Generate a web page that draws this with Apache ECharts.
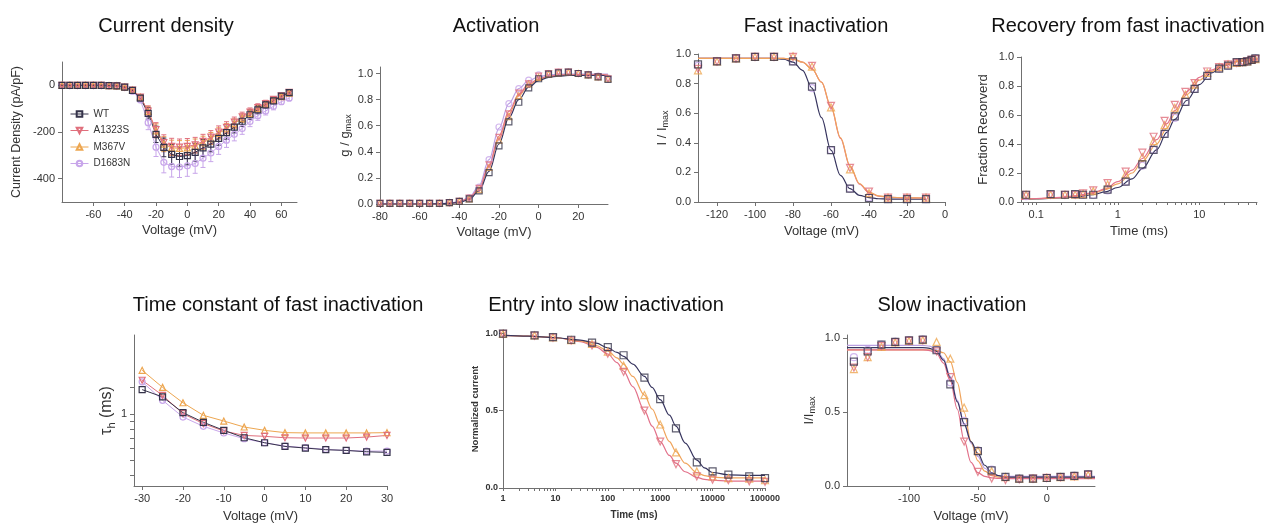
<!DOCTYPE html>
<html>
<head>
<meta charset="utf-8">
<title>Channel gating panels</title>
<script src="https://cdn.jsdelivr.net/npm/echarts@6/dist/echarts.min.js"></script>
<style>
  html, body { margin: 0; background: #fff; }
  #main { width: 1286px; height: 528px; }
</style>
</head>
<body>
<div id="main"></div>
<script>
// ---- data ----
var genotypes = ['WT', 'A1323S', 'M367V', 'D1683N'];

// current density (pA/pF)
var cdV = [-80, -75, -70, -65, -60, -55, -50, -45, -40, -35, -30, -25, -20, -15, -10, -5, 0, 5, 10, 15, 20, 25, 30, 35, 40, 45, 50, 55, 60, 65];
var cdWT = [0, 0, 0, 0, 0, 0, -1, -2, -8, -22, -55, -120, -210, -266, -296, -305, -301, -287, -268, -252, -227, -203, -179, -154, -126, -105, -84, -67, -46, -31];
var cdA1323S = [0, 0, 0, 0, 0, 0, -1, -2, -8, -20, -50, -110, -190, -245, -262, -265, -262, -255, -240, -222, -200, -180, -158, -135, -115, -95, -78, -60, -45, -30];
var cdM367V = [0, 0, 0, 0, 0, 0, -1, -2, -8, -20, -50, -112, -195, -252, -268, -270, -268, -260, -246, -228, -206, -186, -164, -141, -120, -100, -82, -64, -48, -33];
var cdD1683N = [0, 0, 0, 0, 0, 0, -1, -2, -9, -25, -62, -160, -265, -330, -348, -350, -345, -335, -312, -290, -262, -235, -210, -185, -155, -130, -110, -90, -70, -55];
var cdErrWT = [2, 2, 2, 2, 2, 2, 2, 2, 2, 5, 10, 25, 35, 40, 42, 42, 40, 38, 36, 33, 30, 28, 25, 22, 20, 17, 15, 12, 10, 8];
var cdErrA1323S = [2, 2, 2, 2, 2, 2, 2, 2, 3, 5, 10, 22, 30, 33, 35, 35, 34, 32, 30, 28, 26, 24, 22, 20, 18, 16, 14, 12, 10, 8];
var cdErrM367V = [2, 2, 2, 2, 2, 2, 2, 2, 3, 5, 10, 22, 30, 32, 33, 33, 32, 30, 28, 26, 24, 22, 20, 18, 16, 14, 12, 10, 9, 8];
var cdErrD1683N = [2, 2, 2, 2, 2, 2, 2, 2, 3, 6, 12, 30, 40, 45, 45, 45, 45, 42, 40, 37, 34, 31, 28, 25, 22, 20, 17, 15, 12, 10];

// activation g/gmax
var actV = [-80, -75, -70, -65, -60, -55, -50, -45, -40, -35, -30, -25, -20, -15, -10, -5, 0, 5, 10, 15, 20, 25, 30, 35];
var actWT = [0.005, 0.005, 0.005, 0.005, 0.005, 0.005, 0.005, 0.01, 0.02, 0.04, 0.10, 0.24, 0.446, 0.63, 0.78, 0.89, 0.96, 0.995, 1.005, 1.01, 1.0, 0.99, 0.975, 0.955];
var actA1323S = [0.005, 0.005, 0.005, 0.005, 0.005, 0.005, 0.005, 0.01, 0.02, 0.045, 0.12, 0.30, 0.51, 0.69, 0.85, 0.92, 0.98, 1.0, 1.01, 1.01, 1.0, 0.99, 0.975, 0.96];
var actM367V = [0.005, 0.005, 0.005, 0.005, 0.005, 0.005, 0.005, 0.01, 0.02, 0.04, 0.11, 0.28, 0.49, 0.67, 0.83, 0.92, 0.97, 0.995, 1.005, 1.01, 1.0, 0.99, 0.975, 0.96];
var actD1683N = [0.005, 0.005, 0.005, 0.005, 0.005, 0.005, 0.005, 0.01, 0.02, 0.05, 0.13, 0.34, 0.59, 0.77, 0.885, 0.95, 0.99, 1.0, 1.01, 1.01, 1.0, 0.99, 0.98, 0.965];
var actFitWT = [0, 0, 0, 0, 0, 0, 0.002, 0.005, 0.012, 0.035, 0.10, 0.25, 0.46, 0.66, 0.80, 0.895, 0.945, 0.97, 0.98, 0.985, 0.985, 0.985, 0.985, 0.985];
var actFitA1323S = [0, 0, 0, 0, 0, 0, 0.002, 0.006, 0.015, 0.045, 0.12, 0.30, 0.52, 0.71, 0.84, 0.92, 0.96, 0.98, 0.99, 0.99, 0.99, 0.99, 0.99, 0.99];
var actFitM367V = [0, 0, 0, 0, 0, 0, 0.002, 0.006, 0.014, 0.042, 0.115, 0.29, 0.50, 0.69, 0.83, 0.91, 0.955, 0.975, 0.985, 0.99, 0.99, 0.99, 0.99, 0.99];
var actFitD1683N = [0, 0, 0, 0, 0, 0, 0.002, 0.007, 0.018, 0.05, 0.14, 0.34, 0.58, 0.77, 0.885, 0.945, 0.975, 0.99, 0.995, 0.995, 0.995, 0.995, 0.995, 0.995];

// fast inactivation I/Imax
var finV = [-130, -120, -110, -100, -90, -80, -70, -60, -50, -40, -30, -20, -10];
var finWT = [0.93, 0.95, 0.97, 0.98, 0.98, 0.95, 0.78, 0.35, 0.09, 0.027, 0.02, 0.02, 0.02];
var finA1323S = [0.90, 0.95, 0.97, 0.98, 0.98, 0.98, 0.92, 0.65, 0.23, 0.07, 0.03, 0.03, 0.03];
var finM367V = [0.89, 0.95, 0.97, 0.98, 0.98, 0.985, 0.915, 0.64, 0.22, 0.06, 0.03, 0.03, 0.03];
var finD1683N = [0.92, 0.95, 0.97, 0.98, 0.98, 0.95, 0.77, 0.35, 0.09, 0.03, 0.02, 0.02, 0.02];
var finFitV = [-130, -100, -90, -85, -80, -75, -70, -65, -60, -55, -50, -45, -40, -35, -30, -20, -10];
var finFitWT = [0.97, 0.97, 0.97, 0.965, 0.945, 0.89, 0.77, 0.57, 0.35, 0.18, 0.09, 0.045, 0.03, 0.022, 0.02, 0.02, 0.02];
var finFitA1323S = [0.97, 0.97, 0.97, 0.97, 0.965, 0.945, 0.90, 0.81, 0.64, 0.43, 0.24, 0.12, 0.065, 0.04, 0.032, 0.028, 0.027];
var finFitM367V = [0.97, 0.97, 0.97, 0.97, 0.965, 0.945, 0.90, 0.81, 0.645, 0.435, 0.245, 0.125, 0.067, 0.042, 0.033, 0.028, 0.027];

// recovery from fast inactivation
var recT = [0.075, 0.15, 0.225, 0.3, 0.375, 0.5, 0.75, 1.25, 2, 2.75, 3.75, 5, 6.75, 8.75, 12.5, 17.5, 22.5, 28.75, 33.75, 38.75, 43.75, 48.75];
var recWT = [0.05, 0.055, 0.05, 0.055, 0.05, 0.05, 0.085, 0.14, 0.26, 0.36, 0.47, 0.59, 0.69, 0.78, 0.87, 0.92, 0.94, 0.965, 0.965, 0.97, 0.98, 0.99];
var recA1323S = [0.05, 0.05, 0.05, 0.05, 0.06, 0.08, 0.13, 0.21, 0.34, 0.45, 0.56, 0.67, 0.76, 0.82, 0.90, 0.93, 0.95, 0.96, 0.965, 0.97, 0.98, 0.985];
var recM367V = [0.05, 0.05, 0.05, 0.05, 0.055, 0.075, 0.12, 0.19, 0.31, 0.42, 0.53, 0.65, 0.74, 0.81, 0.89, 0.93, 0.95, 0.96, 0.965, 0.97, 0.98, 0.985];
var recD1683N = [0.04, 0.05, 0.05, 0.05, 0.05, 0.05, 0.08, 0.14, 0.25, 0.36, 0.47, 0.58, 0.69, 0.78, 0.87, 0.92, 0.94, 0.96, 0.965, 0.97, 0.98, 0.99];
var recFitT = [0.065, 0.1, 0.2, 0.3, 0.5, 0.7, 1, 1.5, 2, 3, 4, 5, 7, 10, 14, 20, 30, 51];
var recFitWT = [0.02, 0.022, 0.028, 0.035, 0.05, 0.07, 0.10, 0.16, 0.23, 0.36, 0.48, 0.57, 0.70, 0.81, 0.89, 0.94, 0.97, 0.985];
var recFitA1323S = [0.02, 0.024, 0.032, 0.042, 0.065, 0.09, 0.14, 0.22, 0.30, 0.43, 0.54, 0.63, 0.76, 0.86, 0.91, 0.95, 0.975, 0.985];
var recFitM367V = [0.02, 0.023, 0.03, 0.04, 0.06, 0.085, 0.125, 0.20, 0.28, 0.40, 0.51, 0.61, 0.74, 0.84, 0.90, 0.945, 0.97, 0.985];

// time constant of fast inactivation (ms)
var tauV = [-30, -25, -20, -15, -10, -5, 0, 5, 10, 15, 20, 25, 30];
var tauWT = [1.45, 1.30, 1.025, 0.887, 0.786, 0.703, 0.652, 0.617, 0.602, 0.587, 0.581, 0.569, 0.564];
var tauA1323S = [1.67, 1.33, 1.01, 0.869, 0.778, 0.728, 0.718, 0.703, 0.70, 0.70, 0.70, 0.71, 0.728];
var tauM367V = [1.94, 1.50, 1.19, 0.985, 0.904, 0.826, 0.786, 0.759, 0.756, 0.756, 0.756, 0.756, 0.759];
var tauD1683N = [1.63, 1.235, 0.96, 0.835, 0.755, 0.693, 0.652, 0.62, 0.605, 0.59, 0.58, 0.575, 0.575];

// entry into slow inactivation
var entT = [1, 4, 9, 20, 50, 100, 200, 500, 1000, 2000, 5000, 10000, 20000, 50000, 100000];
var entWT = [0.996, 0.985, 0.974, 0.957, 0.938, 0.91, 0.857, 0.713, 0.574, 0.385, 0.165, 0.107, 0.086, 0.075, 0.064];
var entA1323S = [0.995, 0.983, 0.97, 0.952, 0.92, 0.867, 0.75, 0.50, 0.30, 0.154, 0.075, 0.054, 0.05, 0.043, 0.04];
var entM367V = [0.995, 0.985, 0.972, 0.955, 0.93, 0.88, 0.79, 0.60, 0.41, 0.23, 0.107, 0.075, 0.064, 0.06, 0.05];
var entFitT = [1, 3, 10, 30, 60, 100, 150, 200, 300, 500, 700, 1000, 1500, 2000, 3000, 5000, 7000, 10000, 20000, 50000, 100000];
var entFitWT = [0.985, 0.98, 0.97, 0.955, 0.935, 0.905, 0.875, 0.85, 0.80, 0.72, 0.65, 0.57, 0.47, 0.40, 0.29, 0.18, 0.13, 0.10, 0.085, 0.082, 0.082];
var entFitA1323S = [0.985, 0.98, 0.97, 0.945, 0.91, 0.865, 0.81, 0.755, 0.655, 0.50, 0.40, 0.30, 0.21, 0.16, 0.105, 0.068, 0.056, 0.05, 0.045, 0.044, 0.044];
var entFitM367V = [0.985, 0.98, 0.97, 0.95, 0.92, 0.885, 0.84, 0.80, 0.72, 0.60, 0.51, 0.41, 0.30, 0.235, 0.16, 0.10, 0.08, 0.07, 0.065, 0.065, 0.065];

// slow inactivation I/Imax
var sinV = [-140, -130, -120, -110, -100, -90, -80, -70, -60, -50, -40, -30, -20, -10, 0, 10, 20, 30];
var sinWT = [0.84, 0.91, 0.955, 0.973, 0.984, 0.989, 0.917, 0.687, 0.432, 0.236, 0.106, 0.061, 0.05, 0.05, 0.054, 0.061, 0.068, 0.079];
var sinA1323S = [0.80, 0.87, 0.945, 0.97, 0.98, 0.985, 0.91, 0.735, 0.30, 0.095, 0.05, 0.04, 0.045, 0.05, 0.055, 0.06, 0.065, 0.075];
var sinM367V = [0.79, 0.87, 0.94, 0.97, 0.98, 0.985, 0.973, 0.86, 0.53, 0.24, 0.10, 0.06, 0.05, 0.05, 0.055, 0.06, 0.065, 0.075];
var sinD1683N = [0.87, 0.92, 0.955, 0.975, 0.985, 0.99, 0.92, 0.70, 0.44, 0.24, 0.11, 0.06, 0.05, 0.05, 0.055, 0.06, 0.07, 0.08];
var sinFitV = [-145, -90, -85, -80, -75, -70, -65, -60, -55, -50, -45, -40, -35, -30, -20, 35];
var sinFitWT = [0.935, 0.935, 0.93, 0.91, 0.85, 0.73, 0.57, 0.42, 0.30, 0.22, 0.14, 0.09, 0.07, 0.06, 0.06, 0.06];
var sinFitA1323S = [0.92, 0.92, 0.915, 0.895, 0.83, 0.71, 0.52, 0.31, 0.16, 0.09, 0.065, 0.055, 0.052, 0.05, 0.05, 0.05];
var sinFitM367V = [0.92, 0.92, 0.92, 0.915, 0.90, 0.84, 0.70, 0.50, 0.30, 0.17, 0.10, 0.07, 0.06, 0.055, 0.055, 0.055];
var sinFitD1683N = [0.95, 0.95, 0.945, 0.92, 0.86, 0.74, 0.58, 0.42, 0.29, 0.20, 0.12, 0.085, 0.07, 0.065, 0.065, 0.065];

// ---- styling ----
var FONT = '"Liberation Sans", Arial, sans-serif';
var COL = { WT: '#35334a', A1323S: '#e06f7c', M367V: '#eda650', D1683N: '#c8a6ea' };
var FIT = { WT: '#37355f', A1323S: '#e2718a', M367V: '#f0a45c', D1683N: '#baa0e2' };
var SYM = { WT: 'rect', A1323S: 'triangle', M367V: 'triangle', D1683N: 'circle' };

function pts(xs, ys) {
  return xs.map(function (x, i) { return [x, ys[i]]; });
}
function fmt1(v) { return Number(v).toFixed(1); }
function plain(v) { return String(v); }

// minor + major ticks for the log axes
function logTicks(from, to) {
  var out = [];
  for (var d = from; d < to; d *= 10) {
    for (var k = 1; k < 10; k++) out.push(+(d * k).toPrecision(3));
  }
  out.push(to);
  return out;
}

function makeAxis(o) {
  return {
    type: o.type || 'value',
    gridIndex: o.grid,
    min: o.min,
    max: o.max,
    name: o.name,
    nameLocation: 'middle',
    nameGap: o.gap,
    nameTextStyle: Object.assign({ color: '#333', fontSize: 13, fontFamily: FONT }, o.nameStyle || {}),
    axisLine: { show: true, onZero: false, lineStyle: { color: '#707070', width: 1 } },
    axisTick: { show: true, length: o.tickLen || 4, customValues: o.ticks || o.labels, lineStyle: { color: '#707070' } },
    axisLabel: {
      customValues: o.labels,
      formatter: o.fmt || plain,
      color: '#333',
      fontSize: o.fs || 11,
      fontWeight: o.fw || 'normal',
      fontFamily: FONT,
      margin: o.margin || 7
    },
    splitLine: { show: false }
  };
}

function markers(type, g, name, xs, ys, size) {
  return {
    type: type, name: name, xAxisIndex: g, yAxisIndex: g,
    data: pts(xs, ys),
    symbol: SYM[name],
    symbolRotate: name === 'A1323S' ? 180 : 0,
    symbolSize: size,
    showSymbol: true,
    itemStyle: { color: 'rgba(255,255,255,0)', borderColor: COL[name], borderWidth: 1.2 },
    lineStyle: { color: COL[name], width: 1 },
    silent: true, z: 3
  };
}

function fitLine(g, name, xs, ys) {
  return {
    type: 'line', name: name, xAxisIndex: g, yAxisIndex: g,
    data: pts(xs, ys),
    smooth: 0.35, smoothMonotone: 'x',
    symbol: 'none', showSymbol: false,
    lineStyle: { color: FIT[name], width: 1.2 },
    silent: true, z: 2
  };
}

// vertical SEM bars with caps
function errorBars(g, name, xs, ys, es) {
  return {
    type: 'custom', xAxisIndex: g, yAxisIndex: g, silent: true, z: 1,
    data: xs.map(function (x, i) { return [x, ys[i], es[i]]; }),
    encode: { x: 0, y: 1 },
    renderItem: function (params, api) {
      var x = api.value(0), y = api.value(1), e = api.value(2);
      var hi = api.coord([x, y + e]);
      var lo = api.coord([x, y - e]);
      var c = COL[name], w = 2.5;
      var st = { stroke: c, lineWidth: 1 };
      return {
        type: 'group',
        children: [
          { type: 'line', shape: { x1: hi[0], y1: hi[1], x2: lo[0], y2: lo[1] }, style: st },
          { type: 'line', shape: { x1: hi[0] - w, y1: hi[1], x2: hi[0] + w, y2: hi[1] }, style: st },
          { type: 'line', shape: { x1: lo[0] - w, y1: lo[1], x2: lo[0] + w, y2: lo[1] }, style: st }
        ]
      };
    }
  };
}

var grids = [
  { left: 62, top: 62, width: 235, height: 140 },
  { left: 380, top: 67, width: 228, height: 137 },
  { left: 698, top: 54, width: 247, height: 148 },
  { left: 1021, top: 57, width: 236, height: 145 },
  { left: 134, top: 335, width: 253, height: 151 },
  { left: 503, top: 330, width: 262, height: 158 },
  { left: 847, top: 335, width: 248, height: 151 }
];

var sub = { sub: { fontSize: 9, padding: [7, 0, 0, 0] } };
var subTau = { sub: { fontSize: 11, padding: [9, 0, 0, 0] } };

var xAxes = [
  makeAxis({ grid: 0, min: -80, max: 70, labels: [-60, -40, -20, 0, 20, 40, 60], name: 'Voltage (mV)', gap: 22 }),
  makeAxis({ grid: 1, min: -80, max: 35, labels: [-80, -60, -40, -20, 0, 20], name: 'Voltage (mV)', gap: 22 }),
  makeAxis({ grid: 2, min: -130, max: 0, labels: [-120, -100, -80, -60, -40, -20, 0], name: 'Voltage (mV)', gap: 23 }),
  makeAxis({ grid: 3, type: 'log', min: 0.065, max: 51, labels: [0.1, 1, 10], ticks: logTicks(0.1, 50).concat([0.07, 0.08, 0.09]), tickLen: 3, name: 'Time (ms)', gap: 23 }),
  makeAxis({ grid: 4, min: -32, max: 30, labels: [-30, -20, -10, 0, 10, 20, 30], name: 'Voltage (mV)', gap: 24 }),
  makeAxis({ grid: 5, type: 'log', min: 1, max: 100000, labels: [1, 10, 100, 1000, 10000, 100000], ticks: logTicks(1, 100000), tickLen: 3, name: 'Time (ms)', gap: 22, fs: 9, fw: 'bold', margin: 6, nameStyle: { fontSize: 10, fontWeight: 'bold' } }),
  makeAxis({ grid: 6, min: -145, max: 35, labels: [-100, -50, 0], name: 'Voltage (mV)', gap: 24 })
];

var yAxes = [
  makeAxis({ grid: 0, min: -500, max: 100, labels: [-400, -200, 0], name: 'Current Density (pA/pF)', gap: 39, nameStyle: { fontSize: 12.5 } }),
  makeAxis({ grid: 1, min: 0, max: 1.05, labels: [0, 0.2, 0.4, 0.6, 0.8, 1], fmt: fmt1, name: 'g / g{sub|max}', gap: 27, nameStyle: { rich: sub } }),
  makeAxis({ grid: 2, min: 0, max: 1, labels: [0, 0.2, 0.4, 0.6, 0.8, 1], fmt: fmt1, name: 'I / I{sub|max}', gap: 28, nameStyle: { rich: sub } }),
  makeAxis({ grid: 3, min: 0, max: 1, labels: [0, 0.2, 0.4, 0.6, 0.8, 1], fmt: fmt1, name: 'Fraction Recorverd', gap: 31 }),
  makeAxis({ grid: 4, type: 'log', min: 0.34, max: 3.3, labels: [1], ticks: [0.4, 0.5, 0.6, 0.7, 0.8, 0.9, 1, 1.5], name: 'τ{sub|h} (ms)', gap: 12, nameStyle: { fontSize: 16, rich: subTau } }),
  makeAxis({ grid: 5, min: 0, max: 1.02, labels: [0, 0.5, 1], fmt: fmt1, name: 'Normalized current', gap: 23, fs: 9, fw: 'bold', margin: 5, nameStyle: { fontSize: 9.5, fontWeight: 'bold' } }),
  makeAxis({ grid: 6, min: 0, max: 1.02, labels: [0, 0.5, 1], fmt: fmt1, name: 'I/I{sub|max}', gap: 30, nameStyle: { rich: sub } })
];

var series = [];
// panel 1: current density, connected points with error bars
series.push(errorBars(0, 'D1683N', cdV, cdD1683N, cdErrD1683N));
series.push(errorBars(0, 'M367V', cdV, cdM367V, cdErrM367V));
series.push(errorBars(0, 'A1323S', cdV, cdA1323S, cdErrA1323S));
series.push(errorBars(0, 'WT', cdV, cdWT, cdErrWT));
series.push(markers('line', 0, 'D1683N', cdV, cdD1683N, 6));
series.push(markers('line', 0, 'M367V', cdV, cdM367V, 6));
series.push(markers('line', 0, 'A1323S', cdV, cdA1323S, 6));
series.push(markers('line', 0, 'WT', cdV, cdWT, 6));

// panel 2: activation
series.push(fitLine(1, 'D1683N', actV, actFitD1683N));
series.push(fitLine(1, 'M367V', actV, actFitM367V));
series.push(fitLine(1, 'A1323S', actV, actFitA1323S));
series.push(fitLine(1, 'WT', actV, actFitWT));
series.push(markers('scatter', 1, 'D1683N', actV, actD1683N, 6));
series.push(markers('scatter', 1, 'M367V', actV, actM367V, 6));
series.push(markers('scatter', 1, 'A1323S', actV, actA1323S, 6));
series.push(markers('scatter', 1, 'WT', actV, actWT, 6));

// panel 3: fast inactivation
series.push(fitLine(2, 'WT', finFitV, finFitWT));
series.push(fitLine(2, 'A1323S', finFitV, finFitA1323S));
series.push(fitLine(2, 'M367V', finFitV, finFitM367V));
series.push(markers('scatter', 2, 'D1683N', finV, finD1683N, 7));
series.push(markers('scatter', 2, 'M367V', finV, finM367V, 7));
series.push(markers('scatter', 2, 'A1323S', finV, finA1323S, 7));
series.push(markers('scatter', 2, 'WT', finV, finWT, 7));

// panel 4: recovery
series.push(fitLine(3, 'WT', recFitT, recFitWT));
series.push(fitLine(3, 'M367V', recFitT, recFitM367V));
series.push(fitLine(3, 'A1323S', recFitT, recFitA1323S));
series.push(markers('scatter', 3, 'D1683N', recT, recD1683N, 7));
series.push(markers('scatter', 3, 'M367V', recT, recM367V, 7));
series.push(markers('scatter', 3, 'A1323S', recT, recA1323S, 7));
series.push(markers('scatter', 3, 'WT', recT, recWT, 7));

// panel 5: tau h, connected points
series.push(markers('line', 4, 'D1683N', tauV, tauD1683N, 6));
series.push(markers('line', 4, 'M367V', tauV, tauM367V, 6));
series.push(markers('line', 4, 'A1323S', tauV, tauA1323S, 6));
series.push(markers('line', 4, 'WT', tauV, tauWT, 6));

// panel 6: entry into slow inactivation
series.push(fitLine(5, 'A1323S', entFitT, entFitA1323S));
series.push(fitLine(5, 'M367V', entFitT, entFitM367V));
series.push(fitLine(5, 'WT', entFitT, entFitWT));
series.push(markers('scatter', 5, 'M367V', entT, entM367V, 7));
series.push(markers('scatter', 5, 'A1323S', entT, entA1323S, 7));
series.push(markers('scatter', 5, 'WT', entT, entWT, 7));

// panel 7: slow inactivation
series.push(fitLine(6, 'D1683N', sinFitV, sinFitD1683N));
series.push(fitLine(6, 'M367V', sinFitV, sinFitM367V));
series.push(fitLine(6, 'A1323S', sinFitV, sinFitA1323S));
series.push(fitLine(6, 'WT', sinFitV, sinFitWT));
series.push(markers('scatter', 6, 'D1683N', sinV, sinD1683N, 7));
series.push(markers('scatter', 6, 'M367V', sinV, sinM367V, 7));
series.push(markers('scatter', 6, 'A1323S', sinV, sinA1323S, 7));
series.push(markers('scatter', 6, 'WT', sinV, sinWT, 7));

// panel titles
var titles = [
  ['Current density', 166, 26],
  ['Activation', 496, 26],
  ['Fast inactivation', 816, 26],
  ['Recovery from fast inactivation', 1128, 26],
  ['Time constant of fast inactivation', 278, 305],
  ['Entry into slow inactivation', 606, 305],
  ['Slow inactivation', 952, 305]
];

var myChart = echarts.init(document.getElementById('main'), null, { renderer: 'canvas' });
myChart.setOption({
  backgroundColor: '#fff',
  animation: false,
  textStyle: { fontFamily: FONT },
  graphic: titles.map(function (t) {
    return {
      type: 'text', x: t[1], y: t[2], silent: true,
      style: { text: t[0], fontSize: 20, fontFamily: FONT, fill: '#111', align: 'center', verticalAlign: 'middle' }
    };
  }),
  legend: {
    data: genotypes,
    orient: 'vertical',
    left: 70,
    top: 109,
    padding: 0,
    itemWidth: 18,
    itemHeight: 7,
    itemGap: 6.5,
    selectedMode: false,
    lineStyle: { width: 1 },
    textStyle: { fontSize: 10, color: '#333', fontFamily: FONT }
  },
  grid: grids,
  xAxis: xAxes,
  yAxis: yAxes,
  series: series
});
</script>
</body>
</html>
